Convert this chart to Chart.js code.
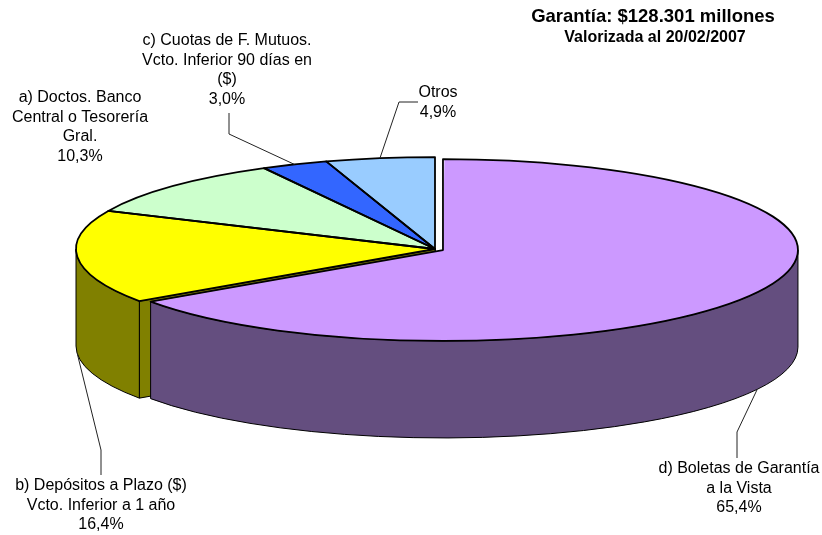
<!DOCTYPE html>
<html>
<head>
<meta charset="utf-8">
<script src="https://cdn.jsdelivr.net/npm/chart.js@4.4.1/dist/chart.umd.min.js"></script>
<style>
  html, body { margin: 0; padding: 0; background: #fff; }
  #wrap { position: relative; width: 822px; height: 535px; }
</style>
</head>
<body>
<div id="wrap"><canvas id="myChart" width="822" height="535"></canvas></div>
<script>
// slices in drawing order (clockwise from 12 o'clock)
const sliceLabels = [
  ["d) Boletas de Garantía", "a la Vista"],
  ["b) Depósitos a Plazo ($)", "Vcto. Inferior a 1 año"],
  ["a) Doctos. Banco", "Central o Tesorería", "Gral."],
  ["c) Cuotas de F. Mutuos.", "Vcto. Inferior 90 días en", "($)"],
  ["Otros"],
];
const sliceValues = [65.4, 16.4, 10.3, 3.0, 4.9];
const sliceExplode = [36, 0, 0, 0, 0];
const topColors = ["#CC99FF", "#FFFF00", "#CCFFCC", "#3366FF", "#99CCFF"];
const sideColors = ["#644E7F", "#808000", "#668066", "#1A3380", "#4D6680"];
const titleLines = ["Garantía: $128.301 millones", "Valorizada al 20/02/2007"];

// 3d look
const TILT = 0.256;
const DEPTH = 97;
const RADIUS = 359;
const EXPLODE_SHRINK = 4; // exploded slice gets a bit smaller, like excel
const FONT = '"Liberation Sans", Arial, sans-serif';

// label placement (center x, first line y) and leader elbows
const labelBoxes = [
  { x: 739, y: 469, leader: [[737, 458], [737, 432]] },
  { x: 101, y: 486, leader: [[101, 475], [101, 450]] },
  { x: 80, y: 98, leader: [] },
  { x: 227, y: 41, leader: [[229, 113], [229, 134]] },
  { x: 438, y: 93, leader: [[418, 102], [399, 102]] },
];

function explodeFix(arc) {
  const c = arc.circumference || 0;
  return 1 - Math.sin(Math.min(Math.PI, c));
}

function sliceGeom(arc) {
  const p = arc.getProps(["x", "y", "startAngle", "endAngle", "outerRadius"], true);
  // same shift ArcElement applies for "offset"
  const off = (arc.options.offset || 0) / 4;
  const mid = (p.startAngle + p.endAngle) / 2;
  return {
    cx: p.x + Math.cos(mid) * off,
    cy: p.y + Math.sin(mid) * off * TILT,
    r: p.outerRadius + off * explodeFix(arc),
    s: p.startAngle,
    e: p.endAngle,
    mid,
  };
}

function rim(g, a, drop) {
  return [g.cx + g.r * Math.cos(a), g.cy + g.r * TILT * Math.sin(a) + drop];
}

function drawSides(ctx, geoms) {
  const faces = [];
  geoms.forEach((g, i) => {
    if (Math.cos(g.s) < -1e-6) faces.push({ g, a: g.s, i });
    if (Math.cos(g.e) > 1e-6) faces.push({ g, a: g.e, i });
  });
  faces.sort((f1, f2) => Math.sin(f1.a) - Math.sin(f2.a));
  ctx.lineWidth = 1;
  ctx.strokeStyle = "#000";
  ctx.lineJoin = "round";
  faces.forEach((f) => {
    const [x1, y1] = rim(f.g, f.a, 0);
    ctx.beginPath();
    ctx.moveTo(f.g.cx, f.g.cy);
    ctx.lineTo(x1, y1);
    ctx.lineTo(x1, y1 + DEPTH);
    ctx.lineTo(f.g.cx, f.g.cy + DEPTH);
    ctx.closePath();
    ctx.fillStyle = sideColors[f.i];
    ctx.fill();
    ctx.stroke();
  });
  // outer walls, only the front half is visible
  geoms.forEach((g, i) => {
    const a = Math.max(g.s, 0);
    const b = Math.min(g.e, Math.PI);
    if (b <= a) return;
    const [xb, yb] = rim(g, b, 0);
    ctx.beginPath();
    ctx.ellipse(g.cx, g.cy, g.r, g.r * TILT, 0, a, b, false);
    ctx.lineTo(xb, yb + DEPTH);
    ctx.ellipse(g.cx, g.cy + DEPTH, g.r, g.r * TILT, 0, b, a, true);
    ctx.closePath();
    ctx.fillStyle = sideColors[i];
    ctx.fill();
    ctx.stroke();
  });
}

const pie3d = {
  id: "pie3d",
  afterDatasetUpdate(chart, args) {
    // chart.js grows an offset arc by offset/4, undo that and shrink a little
    args.meta.data.forEach((arc) => {
      const off = (arc.options.offset || 0) / 4;
      if (off) arc.outerRadius = RADIUS - EXPLODE_SHRINK - off * explodeFix(arc);
    });
  },
  beforeDatasetsDraw(chart) {
    const ctx = chart.ctx;
    const geoms = chart.getDatasetMeta(0).data.map(sliceGeom);
    ctx.save();
    drawSides(ctx, geoms);
    // flatten the pie top
    const cy = chart.getDatasetMeta(0).data[0].y;
    ctx.translate(0, cy);
    ctx.scale(1, TILT);
    ctx.translate(0, -cy);
  },
  afterDatasetsDraw(chart) {
    const ctx = chart.ctx;
    ctx.restore();
    const geoms = chart.getDatasetMeta(0).data.map(sliceGeom);

    ctx.save();
    ctx.strokeStyle = "#000";
    ctx.lineWidth = 1.8;
    ctx.lineJoin = "round";
    geoms.forEach((g) => {
      const [x0, y0] = rim(g, g.s, 0);
      ctx.beginPath();
      ctx.moveTo(g.cx, g.cy);
      ctx.lineTo(x0, y0);
      ctx.ellipse(g.cx, g.cy, g.r, g.r * TILT, 0, g.s, g.e);
      ctx.closePath();
      ctx.stroke();
    });

    // leaders
    ctx.lineWidth = 1;
    ctx.strokeStyle = "#222";
    geoms.forEach((g, i) => {
      const pts = labelBoxes[i].leader;
      if (!pts.length) return;
      const front = Math.sin(g.mid) > 0;
      const end = rim(g, g.mid, front ? DEPTH : 0);
      ctx.beginPath();
      ctx.moveTo(pts[0][0], pts[0][1]);
      pts.slice(1).forEach((p) => ctx.lineTo(p[0], p[1]));
      ctx.lineTo(end[0], end[1]);
      ctx.stroke();
    });

    // data labels
    ctx.fillStyle = "#000";
    ctx.textAlign = "center";
    ctx.textBaseline = "middle";
    ctx.font = "16px " + FONT;
    const total = sliceValues.reduce((a, b) => a + b, 0);
    sliceLabels.forEach((lines, i) => {
      const pct = ((sliceValues[i] / total) * 100).toFixed(1).replace(".", ",") + "%";
      const box = labelBoxes[i];
      lines.concat([pct]).forEach((t, j) => {
        ctx.fillText(t, box.x, box.y + j * 19.5);
      });
    });

    // title
    ctx.font = "bold 18.5px " + FONT;
    ctx.fillText(titleLines[0], 653, 17);
    ctx.font = "bold 16px " + FONT;
    ctx.fillText(titleLines[1], 655, 38);
    ctx.restore();
  },
};

const ctx = document.getElementById("myChart").getContext("2d");
new Chart(ctx, {
  type: "pie",
  data: {
    labels: sliceLabels.map((l) => l.join(" ")),
    datasets: [
      {
        data: sliceValues,
        backgroundColor: topColors,
        borderWidth: 0,
        offset: sliceExplode,
        radius: RADIUS,
        clip: false,
      },
    ],
  },
  options: {
    responsive: false,
    animation: false,
    events: [],
    radius: RADIUS,
    layout: { padding: { left: 48, right: 0, top: 0, bottom: 37 } },
    plugins: {
      legend: { display: false },
      tooltip: { enabled: false },
      title: { display: false },
    },
  },
  plugins: [pie3d],
});
</script>
</body>
</html>
